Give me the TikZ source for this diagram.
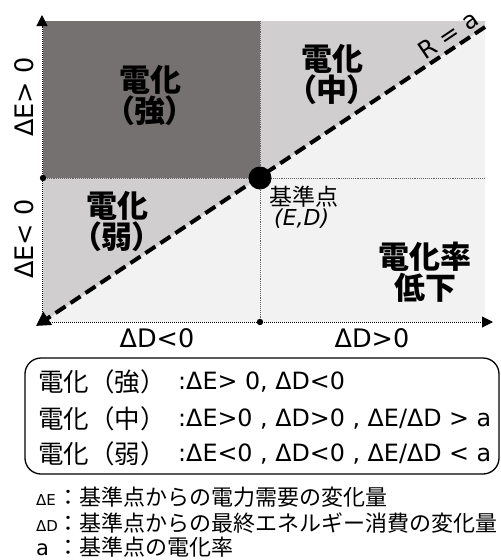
\documentclass[tikz,border=0pt]{standalone}
\usepackage{fontspec}
\setmainfont{DejaVu Sans}
\newfontfamily\jp{Noto Sans CJK JP}
\newfontfamily\jpp{Noto Sans CJK JP}[RawFeature=+palt]
\usetikzlibrary{arrows.meta}
\definecolor{dk}{HTML}{767171}
\definecolor{md}{HTML}{D0CECE}
\definecolor{lt}{HTML}{F2F2F2}
\tikzset{
  qlab/.style={align=center,inner sep=0pt,font=\jpp\bfseries\fontsize{31}{31}\selectfont},
  axlab/.style={inner sep=0pt,font=\fontsize{25.5}{27}\selectfont},
  rowjp/.style={anchor=west,inner sep=0pt,font=\jp\fontsize{25.5}{26}\selectfont},
  rowtxt/.style={anchor=west,inner sep=0pt,font=\fontsize{23.8}{26}\selectfont},
  foot/.style={anchor=west,inner sep=0pt,font=\jp\fontsize{22}{24}\selectfont},
  guide/.style={densely dotted,line width=0.9pt,black!60},
  axis/.style={densely dotted,line width=1pt,black,-{Triangle[length=11pt,width=11pt]}},
}
\begin{document}
\begin{tikzpicture}[x=1pt,y=-1pt]
\useasboundingbox (0,0) rectangle (501,560);
% regions
\fill[lt] (43,21) rectangle (485,322);
\fill[md] (43,322) -- (43,21) -- (485,21) -- (485,27) -- cycle;
\fill[dk] (43,21) rectangle (260,178);
% guides
\coordinate (c) at (260,178);
\coordinate (gl) at (43,178);
\coordinate (gr) at (485,178);
\coordinate (gt) at (260,21);
\coordinate (gb) at (260,322);
\draw[guide] (gl) -- (gr);
\draw[guide] (gt) -- (gb);
% axes
\coordinate (o) at (42,322);
\coordinate (yt) at (42,15);
\coordinate (xr) at (493,322);
\draw[axis] (o) -- (yt);
\draw[axis] (o) -- (xr);
% diagonal
\coordinate (dtr) at (485,27);
\coordinate (dbl) at (36,326);
\draw[line width=4pt,dash pattern=on 12pt off 6pt,-{Triangle[length=14pt,width=15pt]}] (dtr) -- (dbl);
% dots
\fill (c) circle (11.5);
\fill (gl) circle (3.2);
\fill (gb) circle (3.2);
% quadrant labels
\node[qlab] (qs) at (150,96) {電化\\（強）};
\node[qlab] (qm) at (332,75) {電化\\（中）};
\node[qlab] (qw) at (117,222) {電化\\（弱）};
\node[qlab] (qd) at (425,272) {電化率\\低下};
\node[anchor=west,inner sep=0pt,font=\jp\fontsize{23}{25}\selectfont] (kj) at (269,197) {基準点};
\node[anchor=west,inner sep=0pt,font=\itshape\fontsize{22}{24}\selectfont] (ed) at (274,219) {(E,D)};
\node[inner sep=0pt,rotate=34,font=\fontsize{24}{26}\selectfont] (ra) at (448,35) {R = a};
% axis labels
\node[axlab,rotate=90] (ep) at (24,97) {ΔE> 0};
\node[axlab,rotate=90] (en) at (24,239) {ΔE< 0};
\node[axlab] (dn) at (157,338) {ΔD<0};
\node[axlab] (dp) at (372,338) {ΔD>0};
% legend box
\node[draw,rounded corners=16pt,line width=1.3pt,minimum width=474pt,minimum height=116pt,inner sep=0pt] (box) at (262,416) {};
\node[rowjp] (r1a) at (38,382) {電化（強）};
\node[rowtxt] (r1b) at (178,382) {:ΔE> 0, ΔD<0};
\node[rowjp] (r2a) at (38,419) {電化（中）};
\node[rowtxt] (r2b) at (178,419) {:ΔE>0 , ΔD>0 , ΔE/ΔD > a};
\node[rowjp] (r3a) at (38,454) {電化（弱）};
\node[rowtxt] (r3b) at (178,454) {:ΔE<0 , ΔD<0 , ΔE/ΔD < a};
% footnotes
\node[foot] (f1) at (36,497) {\makebox[21pt][l]{\rmfamily\fontsize{15}{15}\selectfont ΔE}：基準点からの電力需要の変化量};
\node[foot] (f2) at (36,523) {\makebox[21pt][l]{\rmfamily\fontsize{15}{15}\selectfont ΔD}：基準点からの最終エネルギー消費の変化量};
\node[foot] (f3) at (36,547) {\makebox[21pt][l]{\rmfamily\fontsize{21}{21}\selectfont a}：基準点の電化率};
\end{tikzpicture}
\end{document}
